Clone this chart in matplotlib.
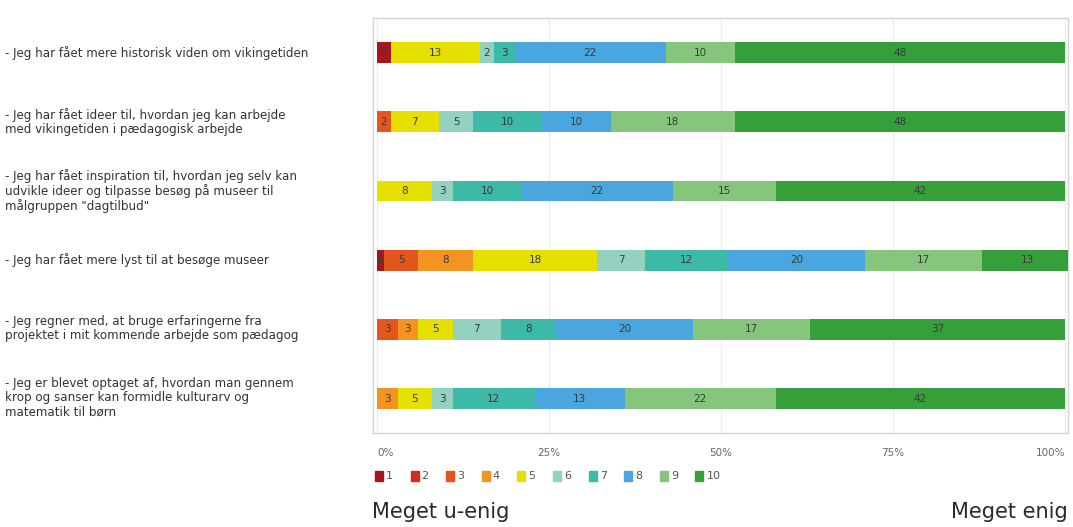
import matplotlib.pyplot as plt
import numpy as np

# Survey statements (y-axis labels)
statements = [
    "- Jeg har fået mere historisk viden om vikingetiden",
    "- Jeg har fået ideer til, hvordan jeg kan arbejde\nmed vikingetiden i pædagogisk arbejde",
    "- Jeg har fået inspiration til, hvordan jeg selv kan\nudvikle ideer og tilpasse besøg på museer til\nmålgruppen \"dagtilbud\"",
    "- Jeg har fået mere lyst til at besøge museer",
    "- Jeg regner med, at bruge erfaringerne fra\nprojektet i mit kommende arbejde som pædagog",
    "- Jeg er blevet optaget af, hvordan man gennem\nkrop og sanser kan formidle kulturarv og\nmatematik til børn",
]

# Answer scale 1..10
scale = ["1", "2", "3", "4", "5", "6", "7", "8", "9", "10"]

# Percent answering each score, one list per statement (0 = nobody)
row1 = [2, 0, 0, 0, 13, 2, 3, 22, 10, 48]
row2 = [0, 0, 2, 0, 7, 5, 10, 10, 18, 48]
row3 = [0, 0, 0, 0, 8, 3, 10, 22, 15, 42]
row4 = [1, 0, 5, 8, 18, 7, 12, 20, 17, 13]
row5 = [0, 0, 3, 3, 5, 7, 8, 20, 17, 37]
row6 = [0, 0, 0, 3, 5, 3, 12, 13, 22, 42]
rows = [row1, row2, row3, row4, row5, row6]

colors = ["#a8161b", "#d42a20", "#e5561e", "#f39320", "#e6e000",
          "#93d1c1", "#3dbaa7", "#4aa6df", "#85c67c", "#35a03a"]

fig = plt.figure(figsize=(10.73, 5.27), dpi=100)
ax = fig.add_axes([0.3476, 0.178, 0.6477, 0.788])

data = np.array(rows)
y = np.arange(len(statements))
left = np.zeros(len(statements))
for i, name in enumerate(scale):
    vals = data[:, i]
    ax.barh(y, vals, left=left, height=0.3, color=colors[i], label=name,
            edgecolor="none", zorder=3)
    for yi, v, l in zip(y, vals, left):
        if v > 0:
            ax.text(l + v / 2, yi, str(v), ha="center", va="center",
                    fontsize=7.5, color="#3a3a3a", zorder=4)
    left += vals

ax.set_xlim(-0.58, 100.44)
ax.set_ylim(5.5, -0.5)
ax.set_xticks([0, 25, 50, 75, 100])
ax.xaxis.grid(True, color="#ececec", linewidth=0.8, zorder=0)
ax.tick_params(axis="both", length=0)
ax.set_xticklabels([])
ax.set_yticks([])
for s in ax.spines.values():
    s.set_color("#d4d4d4")
    s.set_linewidth(1)

# Tick labels below the frame
for t, ha in zip([0, 25, 50, 75, 100], ["left", "center", "center", "center", "right"]):
    ax.text(t, 5.78, f"{t}%", ha=ha, va="center", fontsize=7.5, color="#666666")

# Statements on the left
for yi, s in zip(y, statements):
    fig.text(0.005, 1 - (53 + yi * 69) / 527, s, ha="left", va="center",
             fontsize=8.6, color="#333333", linespacing=1.1)

# Legend row
lx = 375
for i, name in enumerate(scale):
    x0 = lx + i * 35.6
    fig.patches.append(plt.Rectangle((x0 / 1073, 1 - 481 / 527), 8 / 1073, 10 / 527,
                                     transform=fig.transFigure, color=colors[i]))
    fig.text((x0 + 11) / 1073, 1 - 476 / 527, name, ha="left", va="center",
             fontsize=8, color="#555555")

fig.text(372 / 1073, 1 - 512 / 527, "Meget u-enig", ha="left", va="center",
         fontsize=15, color="#2a2a2a")
fig.text(1068 / 1073, 1 - 512 / 527, "Meget enig", ha="right", va="center",
         fontsize=15, color="#2a2a2a")

fig.savefig("out.png", dpi=100)
